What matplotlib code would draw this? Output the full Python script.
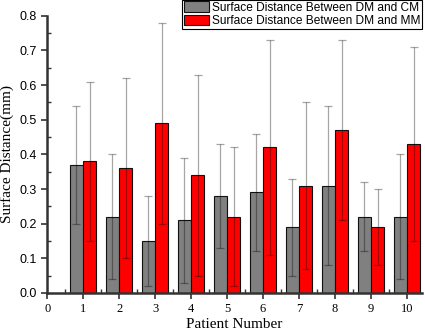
import numpy as np
import matplotlib
matplotlib.use('Agg')
import matplotlib.pyplot as plt
from matplotlib.ticker import MultipleLocator, FormatStrFormatter

patients = [1, 2, 3, 4, 5, 6, 7, 8, 9, 10]
cm_mean = [0.37, 0.22, 0.15, 0.21, 0.28, 0.29, 0.19, 0.31, 0.22, 0.22]
cm_sd = [0.17, 0.18, 0.13, 0.18, 0.15, 0.17, 0.14, 0.23, 0.10, 0.18]
mm_mean = [0.38, 0.36, 0.49, 0.34, 0.22, 0.42, 0.31, 0.47, 0.19, 0.43]
mm_sd = [0.23, 0.26, 0.29, 0.29, 0.20, 0.31, 0.24, 0.26, 0.11, 0.28]

x = np.array(patients)
w = 0.37

fig = plt.figure(figsize=(4.25, 3.32), dpi=100)
ax = fig.add_axes([0.111, 0.1175, 0.882, 0.835])

err_kw = dict(ecolor=(0, 0, 0, 0.35), elinewidth=0.9, capsize=3, capthick=0.9)
ax.bar(x - w / 2, cm_mean, w, yerr=cm_sd, color='#808080', edgecolor='#111111',
       linewidth=0.8, error_kw=err_kw, label='Surface Distance Between DM and CM')
ax.bar(x + w / 2, mm_mean, w, yerr=mm_sd, color='#ff0000', edgecolor='#111111',
       linewidth=0.8, error_kw=err_kw, label='Surface Distance Between DM and MM')

ax.set_xlim(0, 10.42)
ax.set_ylim(0, 0.8)
ax.set_xticks(range(0, 11))
ax.xaxis.set_minor_locator(MultipleLocator(0.5))
ax.yaxis.set_major_locator(MultipleLocator(0.1))
ax.yaxis.set_minor_locator(MultipleLocator(0.05))
ax.yaxis.set_major_formatter(FormatStrFormatter('%.1f'))
ax.tick_params(which='major', direction='out', length=4, width=1.2, color='#333333')
ax.tick_params(which='minor', direction='in', length=3, width=1.0, color='#333333')
for lab in ax.get_xticklabels():
    lab.set_fontfamily('Liberation Serif')
    lab.set_fontsize(9)
for lab in ax.get_yticklabels():
    lab.set_fontfamily('Liberation Sans')
    lab.set_fontsize(9)

for s in ['top', 'right']:
    ax.spines[s].set_visible(False)
for s in ['left', 'bottom']:
    ax.spines[s].set_linewidth(1.8)
    ax.spines[s].set_color('#333333')

ax.set_xlabel('Patient Number', fontfamily='Liberation Serif', fontsize=11, labelpad=2)
ax.set_ylabel('Surface Distance(mm)', fontfamily='Liberation Serif', fontsize=11, labelpad=4)

leg = ax.legend(loc='upper right', bbox_to_anchor=(1.0, 1.058),
                prop={'family': 'Liberation Sans', 'size': 8.6},
                fancybox=False, edgecolor='black', framealpha=1,
                handlelength=2.1, handleheight=0.95, handletextpad=0.25,
                borderpad=0.15, labelspacing=0.1, borderaxespad=0)
leg.get_frame().set_linewidth(0.8)

fig.savefig('out.png', dpi=100)
